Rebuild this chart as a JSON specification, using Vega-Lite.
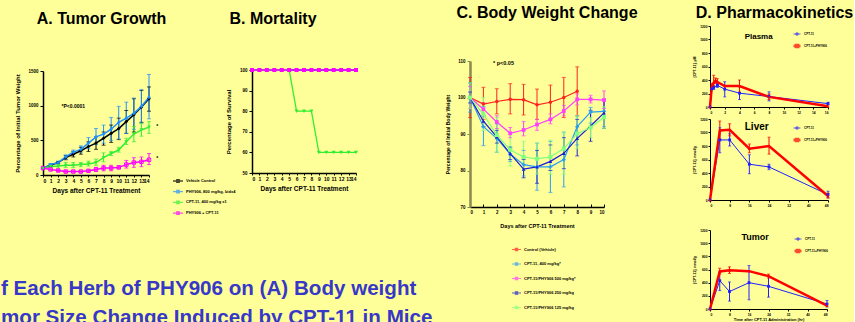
{
  "$schema": "https://vega.github.io/schema/vega-lite/v6.json",
  "background": "#ffff99",
  "padding": 0,
  "config": {
    "font": "Liberation Sans",
    "view": {"stroke": null},
    "axis": {"grid": false, "domainColor": "#000000", "tickColor": "#000000", "labelColor": "#000000", "titleColor": "#000000", "labelFont": "Liberation Sans", "titleFont": "Liberation Sans", "labelFontWeight": "bold", "titleFontWeight": "bold", "labelOverlap": false, "format": "d"},
    "legend": {"labelFont": "Liberation Sans", "labelColor": "#000000", "labelFontWeight": "bold", "padding": 0},
    "text": {"font": "Liberation Sans"}
  },
  "datasets": {
    "tumor": [
      {"day": 0, "treatment": "Vehicle Control", "value": 100},
      {"day": 1, "treatment": "Vehicle Control", "value": 140, "lo": 125, "hi": 155},
      {"day": 2, "treatment": "Vehicle Control", "value": 180, "lo": 165, "hi": 195},
      {"day": 3, "treatment": "Vehicle Control", "value": 250, "lo": 220, "hi": 280},
      {"day": 4, "treatment": "Vehicle Control", "value": 300, "lo": 260, "hi": 340},
      {"day": 5, "treatment": "Vehicle Control", "value": 350, "lo": 300, "hi": 400},
      {"day": 6, "treatment": "Vehicle Control", "value": 410, "lo": 340, "hi": 480},
      {"day": 7, "treatment": "Vehicle Control", "value": 460, "lo": 370, "hi": 550},
      {"day": 8, "treatment": "Vehicle Control", "value": 530, "lo": 430, "hi": 620},
      {"day": 9, "treatment": "Vehicle Control", "value": 600, "lo": 470, "hi": 720},
      {"day": 10, "treatment": "Vehicle Control", "value": 670, "lo": 510, "hi": 820},
      {"day": 11, "treatment": "Vehicle Control", "value": 770, "lo": 600, "hi": 930},
      {"day": 12, "treatment": "Vehicle Control", "value": 870, "lo": 620, "hi": 1100},
      {"day": 13, "treatment": "Vehicle Control", "value": 980, "lo": 760, "hi": 1220},
      {"day": 14, "treatment": "Vehicle Control", "value": 1100, "lo": 920, "hi": 1270},
      {"day": 0, "treatment": "PHY906, 800 mg/kg, bidx4", "value": 100},
      {"day": 1, "treatment": "PHY906, 800 mg/kg, bidx4", "value": 150, "lo": 135, "hi": 165},
      {"day": 2, "treatment": "PHY906, 800 mg/kg, bidx4", "value": 180, "lo": 160, "hi": 200},
      {"day": 3, "treatment": "PHY906, 800 mg/kg, bidx4", "value": 260, "lo": 230, "hi": 290},
      {"day": 4, "treatment": "PHY906, 800 mg/kg, bidx4", "value": 330, "lo": 300, "hi": 360},
      {"day": 5, "treatment": "PHY906, 800 mg/kg, bidx4", "value": 370, "lo": 330, "hi": 420},
      {"day": 6, "treatment": "PHY906, 800 mg/kg, bidx4", "value": 460, "lo": 380, "hi": 540},
      {"day": 7, "treatment": "PHY906, 800 mg/kg, bidx4", "value": 550, "lo": 440, "hi": 670},
      {"day": 8, "treatment": "PHY906, 800 mg/kg, bidx4", "value": 590, "lo": 460, "hi": 720},
      {"day": 9, "treatment": "PHY906, 800 mg/kg, bidx4", "value": 660, "lo": 500, "hi": 830},
      {"day": 10, "treatment": "PHY906, 800 mg/kg, bidx4", "value": 760, "lo": 520, "hi": 990},
      {"day": 11, "treatment": "PHY906, 800 mg/kg, bidx4", "value": 820, "lo": 600, "hi": 1050},
      {"day": 12, "treatment": "PHY906, 800 mg/kg, bidx4", "value": 890, "lo": 660, "hi": 1110},
      {"day": 13, "treatment": "PHY906, 800 mg/kg, bidx4", "value": 990, "lo": 750, "hi": 1230},
      {"day": 14, "treatment": "PHY906, 800 mg/kg, bidx4", "value": 1120, "lo": 810, "hi": 1450},
      {"day": 0, "treatment": "CPT-11, 400 mg/kg x1", "value": 100},
      {"day": 1, "treatment": "CPT-11, 400 mg/kg x1", "value": 120, "lo": 110, "hi": 130},
      {"day": 2, "treatment": "CPT-11, 400 mg/kg x1", "value": 130, "lo": 100, "hi": 170},
      {"day": 3, "treatment": "CPT-11, 400 mg/kg x1", "value": 140, "lo": 110, "hi": 180},
      {"day": 4, "treatment": "CPT-11, 400 mg/kg x1", "value": 140, "lo": 110, "hi": 180},
      {"day": 5, "treatment": "CPT-11, 400 mg/kg x1", "value": 150, "lo": 120, "hi": 180},
      {"day": 6, "treatment": "CPT-11, 400 mg/kg x1", "value": 160, "lo": 130, "hi": 200},
      {"day": 7, "treatment": "CPT-11, 400 mg/kg x1", "value": 180, "lo": 140, "hi": 230},
      {"day": 8, "treatment": "CPT-11, 400 mg/kg x1", "value": 250, "lo": 190, "hi": 320},
      {"day": 9, "treatment": "CPT-11, 400 mg/kg x1", "value": 310, "lo": 280, "hi": 340},
      {"day": 10, "treatment": "CPT-11, 400 mg/kg x1", "value": 360, "lo": 330, "hi": 400},
      {"day": 11, "treatment": "CPT-11, 400 mg/kg x1", "value": 480, "lo": 440, "hi": 530},
      {"day": 12, "treatment": "CPT-11, 400 mg/kg x1", "value": 590, "lo": 480, "hi": 700},
      {"day": 13, "treatment": "CPT-11, 400 mg/kg x1", "value": 650, "lo": 560, "hi": 740},
      {"day": 14, "treatment": "CPT-11, 400 mg/kg x1", "value": 690, "lo": 600, "hi": 770},
      {"day": 0, "treatment": "PHY906 + CPT-11", "value": 100},
      {"day": 1, "treatment": "PHY906 + CPT-11", "value": 80, "lo": 70, "hi": 90},
      {"day": 2, "treatment": "PHY906 + CPT-11", "value": 65, "lo": 50, "hi": 80},
      {"day": 3, "treatment": "PHY906 + CPT-11", "value": 50, "lo": 40, "hi": 60},
      {"day": 4, "treatment": "PHY906 + CPT-11", "value": 50, "lo": 40, "hi": 60},
      {"day": 5, "treatment": "PHY906 + CPT-11", "value": 50, "lo": 40, "hi": 60},
      {"day": 6, "treatment": "PHY906 + CPT-11", "value": 60, "lo": 45, "hi": 75},
      {"day": 7, "treatment": "PHY906 + CPT-11", "value": 80, "lo": 50, "hi": 110},
      {"day": 8, "treatment": "PHY906 + CPT-11", "value": 100, "lo": 60, "hi": 140},
      {"day": 9, "treatment": "PHY906 + CPT-11", "value": 100, "lo": 60, "hi": 140},
      {"day": 10, "treatment": "PHY906 + CPT-11", "value": 110, "lo": 90, "hi": 130},
      {"day": 11, "treatment": "PHY906 + CPT-11", "value": 150, "lo": 100, "hi": 210},
      {"day": 12, "treatment": "PHY906 + CPT-11", "value": 180, "lo": 110, "hi": 250},
      {"day": 13, "treatment": "PHY906 + CPT-11", "value": 190, "lo": 120, "hi": 260},
      {"day": 14, "treatment": "PHY906 + CPT-11", "value": 220, "lo": 150, "hi": 310}
    ],
    "survival": [
      {"day": 0, "treatment": "Vehicle Control", "pct": 100}, {"day": 1, "treatment": "Vehicle Control", "pct": 100}, {"day": 2, "treatment": "Vehicle Control", "pct": 100}, {"day": 3, "treatment": "Vehicle Control", "pct": 100}, {"day": 4, "treatment": "Vehicle Control", "pct": 100}, {"day": 5, "treatment": "Vehicle Control", "pct": 100}, {"day": 6, "treatment": "Vehicle Control", "pct": 100}, {"day": 7, "treatment": "Vehicle Control", "pct": 100}, {"day": 8, "treatment": "Vehicle Control", "pct": 100}, {"day": 9, "treatment": "Vehicle Control", "pct": 100}, {"day": 10, "treatment": "Vehicle Control", "pct": 100}, {"day": 11, "treatment": "Vehicle Control", "pct": 100}, {"day": 12, "treatment": "Vehicle Control", "pct": 100}, {"day": 13, "treatment": "Vehicle Control", "pct": 100}, {"day": 14, "treatment": "Vehicle Control", "pct": 100},
      {"day": 0, "treatment": "PHY906, 800 mg/kg, bidx4", "pct": 100}, {"day": 1, "treatment": "PHY906, 800 mg/kg, bidx4", "pct": 100}, {"day": 2, "treatment": "PHY906, 800 mg/kg, bidx4", "pct": 100}, {"day": 3, "treatment": "PHY906, 800 mg/kg, bidx4", "pct": 100}, {"day": 4, "treatment": "PHY906, 800 mg/kg, bidx4", "pct": 100}, {"day": 5, "treatment": "PHY906, 800 mg/kg, bidx4", "pct": 100}, {"day": 6, "treatment": "PHY906, 800 mg/kg, bidx4", "pct": 100}, {"day": 7, "treatment": "PHY906, 800 mg/kg, bidx4", "pct": 100}, {"day": 8, "treatment": "PHY906, 800 mg/kg, bidx4", "pct": 100}, {"day": 9, "treatment": "PHY906, 800 mg/kg, bidx4", "pct": 100}, {"day": 10, "treatment": "PHY906, 800 mg/kg, bidx4", "pct": 100}, {"day": 11, "treatment": "PHY906, 800 mg/kg, bidx4", "pct": 100}, {"day": 12, "treatment": "PHY906, 800 mg/kg, bidx4", "pct": 100}, {"day": 13, "treatment": "PHY906, 800 mg/kg, bidx4", "pct": 100}, {"day": 14, "treatment": "PHY906, 800 mg/kg, bidx4", "pct": 100},
      {"day": 0, "treatment": "CPT-11, 400 mg/kg x1", "pct": 100}, {"day": 1, "treatment": "CPT-11, 400 mg/kg x1", "pct": 100}, {"day": 2, "treatment": "CPT-11, 400 mg/kg x1", "pct": 100}, {"day": 3, "treatment": "CPT-11, 400 mg/kg x1", "pct": 100}, {"day": 4, "treatment": "CPT-11, 400 mg/kg x1", "pct": 100}, {"day": 5, "treatment": "CPT-11, 400 mg/kg x1", "pct": 100}, {"day": 6, "treatment": "CPT-11, 400 mg/kg x1", "pct": 80}, {"day": 7, "treatment": "CPT-11, 400 mg/kg x1", "pct": 80}, {"day": 8, "treatment": "CPT-11, 400 mg/kg x1", "pct": 80}, {"day": 9, "treatment": "CPT-11, 400 mg/kg x1", "pct": 60}, {"day": 10, "treatment": "CPT-11, 400 mg/kg x1", "pct": 60}, {"day": 11, "treatment": "CPT-11, 400 mg/kg x1", "pct": 60}, {"day": 12, "treatment": "CPT-11, 400 mg/kg x1", "pct": 60}, {"day": 13, "treatment": "CPT-11, 400 mg/kg x1", "pct": 60}, {"day": 14, "treatment": "CPT-11, 400 mg/kg x1", "pct": 60},
      {"day": 0, "treatment": "PHY906 + CPT-11", "pct": 100}, {"day": 1, "treatment": "PHY906 + CPT-11", "pct": 100}, {"day": 2, "treatment": "PHY906 + CPT-11", "pct": 100}, {"day": 3, "treatment": "PHY906 + CPT-11", "pct": 100}, {"day": 4, "treatment": "PHY906 + CPT-11", "pct": 100}, {"day": 5, "treatment": "PHY906 + CPT-11", "pct": 100}, {"day": 6, "treatment": "PHY906 + CPT-11", "pct": 100}, {"day": 7, "treatment": "PHY906 + CPT-11", "pct": 100}, {"day": 8, "treatment": "PHY906 + CPT-11", "pct": 100}, {"day": 9, "treatment": "PHY906 + CPT-11", "pct": 100}, {"day": 10, "treatment": "PHY906 + CPT-11", "pct": 100}, {"day": 11, "treatment": "PHY906 + CPT-11", "pct": 100}, {"day": 12, "treatment": "PHY906 + CPT-11", "pct": 100}, {"day": 13, "treatment": "PHY906 + CPT-11", "pct": 100}, {"day": 14, "treatment": "PHY906 + CPT-11", "pct": 100}
    ],
    "weight": [
      {"day": 0, "group": "Control (Vehicle)", "value": 100, "lo": 94.5, "hi": 105.5},
      {"day": 1, "group": "Control (Vehicle)", "value": 98.2, "lo": 94, "hi": 102.8},
      {"day": 2, "group": "Control (Vehicle)", "value": 98.9, "lo": 95.5, "hi": 102.4},
      {"day": 3, "group": "Control (Vehicle)", "value": 99.5, "lo": 95.5, "hi": 103.8},
      {"day": 4, "group": "Control (Vehicle)", "value": 99.4, "lo": 95.2, "hi": 103.6},
      {"day": 5, "group": "Control (Vehicle)", "value": 98, "lo": 94, "hi": 102.3},
      {"day": 6, "group": "Control (Vehicle)", "value": 98.7, "lo": 94, "hi": 103.4},
      {"day": 7, "group": "Control (Vehicle)", "value": 100, "lo": 94.5, "hi": 105.5},
      {"day": 8, "group": "Control (Vehicle)", "value": 101.7, "lo": 95, "hi": 108.4},
      {"day": 0, "group": "CPT-11, 400 mg/kg*", "value": 100, "lo": 96, "hi": 104},
      {"day": 1, "group": "CPT-11, 400 mg/kg*", "value": 92, "lo": 86.8, "hi": 97.5},
      {"day": 2, "group": "CPT-11, 400 mg/kg*", "value": 88.8, "lo": 85, "hi": 92.8},
      {"day": 3, "group": "CPT-11, 400 mg/kg*", "value": 84.5, "lo": 82.5, "hi": 86.5},
      {"day": 4, "group": "CPT-11, 400 mg/kg*", "value": 81.6, "lo": 78.5, "hi": 85.5},
      {"day": 5, "group": "CPT-11, 400 mg/kg*", "value": 81, "lo": 74.6, "hi": 87.5},
      {"day": 6, "group": "CPT-11, 400 mg/kg*", "value": 81, "lo": 74, "hi": 88},
      {"day": 7, "group": "CPT-11, 400 mg/kg*", "value": 83, "lo": 75.5, "hi": 90.5},
      {"day": 8, "group": "CPT-11, 400 mg/kg*", "value": 92, "lo": 87, "hi": 95},
      {"day": 9, "group": "CPT-11, 400 mg/kg*", "value": 96, "lo": 93, "hi": 97.3},
      {"day": 10, "group": "CPT-11, 400 mg/kg*", "value": 96.2, "lo": 92, "hi": 99.5},
      {"day": 0, "group": "CPT-11/PHY906 500 mg/kg*", "value": 100, "lo": 97, "hi": 103},
      {"day": 1, "group": "CPT-11/PHY906 500 mg/kg*", "value": 96.8, "lo": 95, "hi": 98.6},
      {"day": 2, "group": "CPT-11/PHY906 500 mg/kg*", "value": 93.3, "lo": 91.5, "hi": 95},
      {"day": 3, "group": "CPT-11/PHY906 500 mg/kg*", "value": 90.2, "lo": 89, "hi": 91.8},
      {"day": 4, "group": "CPT-11/PHY906 500 mg/kg*", "value": 91.1, "lo": 89.5, "hi": 93.4},
      {"day": 5, "group": "CPT-11/PHY906 500 mg/kg*", "value": 92.6, "lo": 91, "hi": 94},
      {"day": 6, "group": "CPT-11/PHY906 500 mg/kg*", "value": 94, "lo": 92.8, "hi": 95.5},
      {"day": 7, "group": "CPT-11/PHY906 500 mg/kg*", "value": 96.3, "lo": 95, "hi": 97.8},
      {"day": 8, "group": "CPT-11/PHY906 500 mg/kg*", "value": 99.5, "lo": 98, "hi": 101},
      {"day": 9, "group": "CPT-11/PHY906 500 mg/kg*", "value": 99.5, "lo": 98.5, "hi": 100.6},
      {"day": 10, "group": "CPT-11/PHY906 500 mg/kg*", "value": 99.3, "lo": 97, "hi": 101.8},
      {"day": 0, "group": "CPT-11/PHY906 250 mg/kg", "value": 100, "lo": 98.5, "hi": 101.5},
      {"day": 1, "group": "CPT-11/PHY906 250 mg/kg", "value": 93.5, "lo": 92, "hi": 95},
      {"day": 2, "group": "CPT-11/PHY906 250 mg/kg", "value": 89.2, "lo": 87.5, "hi": 91},
      {"day": 3, "group": "CPT-11/PHY906 250 mg/kg", "value": 84.6, "lo": 83, "hi": 86.2},
      {"day": 4, "group": "CPT-11/PHY906 250 mg/kg", "value": 80.4, "lo": 78, "hi": 83},
      {"day": 5, "group": "CPT-11/PHY906 250 mg/kg", "value": 81, "lo": 76.5, "hi": 85.5},
      {"day": 6, "group": "CPT-11/PHY906 250 mg/kg", "value": 82.5, "lo": 80, "hi": 87},
      {"day": 7, "group": "CPT-11/PHY906 250 mg/kg", "value": 84.7, "lo": 80.5, "hi": 89},
      {"day": 8, "group": "CPT-11/PHY906 250 mg/kg", "value": 88.8, "lo": 84, "hi": 94},
      {"day": 9, "group": "CPT-11/PHY906 250 mg/kg", "value": 92.2, "lo": 88, "hi": 96.5},
      {"day": 10, "group": "CPT-11/PHY906 250 mg/kg", "value": 95.8, "lo": 91.5, "hi": 99.5},
      {"day": 0, "group": "CPT-11/PHY906 125 mg/kg", "value": 100, "lo": 97, "hi": 104},
      {"day": 1, "group": "CPT-11/PHY906 125 mg/kg", "value": 95.4, "lo": 91, "hi": 100},
      {"day": 2, "group": "CPT-11/PHY906 125 mg/kg", "value": 89.7, "lo": 85, "hi": 94.5},
      {"day": 3, "group": "CPT-11/PHY906 125 mg/kg", "value": 85.7, "lo": 81.2, "hi": 90},
      {"day": 4, "group": "CPT-11/PHY906 125 mg/kg", "value": 83.7, "lo": 80, "hi": 88},
      {"day": 5, "group": "CPT-11/PHY906 125 mg/kg", "value": 83.2, "lo": 79, "hi": 87.5},
      {"day": 6, "group": "CPT-11/PHY906 125 mg/kg", "value": 83.7, "lo": 79, "hi": 88.3},
      {"day": 7, "group": "CPT-11/PHY906 125 mg/kg", "value": 86, "lo": 79, "hi": 90.5},
      {"day": 8, "group": "CPT-11/PHY906 125 mg/kg", "value": 90.1, "lo": 86, "hi": 95},
      {"day": 9, "group": "CPT-11/PHY906 125 mg/kg", "value": 91.8, "lo": 89, "hi": 94.5},
      {"day": 10, "group": "CPT-11/PHY906 125 mg/kg", "value": 94.6, "lo": 91.5, "hi": 97.5}
    ],
    "pk": [
      {"tissue": "Plasma", "drug": "CPT-11", "time": 0, "value": 0},
      {"tissue": "Plasma", "drug": "CPT-11", "time": 0.25, "value": 270},
      {"tissue": "Plasma", "drug": "CPT-11", "time": 0.5, "value": 290, "lo": 260, "hi": 320},
      {"tissue": "Plasma", "drug": "CPT-11", "time": 1, "value": 320, "lo": 290, "hi": 350},
      {"tissue": "Plasma", "drug": "CPT-11", "time": 2, "value": 265, "lo": 150, "hi": 375},
      {"tissue": "Plasma", "drug": "CPT-11", "time": 4, "value": 205, "lo": 110, "hi": 300},
      {"tissue": "Plasma", "drug": "CPT-11", "time": 8, "value": 155, "lo": 90, "hi": 225},
      {"tissue": "Plasma", "drug": "CPT-11", "time": 16, "value": 50, "lo": 30, "hi": 70},
      {"tissue": "Plasma", "drug": "CPT-11+PHY906", "time": 0, "value": 0},
      {"tissue": "Plasma", "drug": "CPT-11+PHY906", "time": 0.25, "value": 310, "lo": 270, "hi": 350},
      {"tissue": "Plasma", "drug": "CPT-11+PHY906", "time": 0.5, "value": 360, "lo": 300, "hi": 470},
      {"tissue": "Plasma", "drug": "CPT-11+PHY906", "time": 0.75, "value": 390, "lo": 350, "hi": 430},
      {"tissue": "Plasma", "drug": "CPT-11+PHY906", "time": 1, "value": 370, "lo": 330, "hi": 420},
      {"tissue": "Plasma", "drug": "CPT-11+PHY906", "time": 2, "value": 310},
      {"tissue": "Plasma", "drug": "CPT-11+PHY906", "time": 4, "value": 310, "lo": 220, "hi": 400},
      {"tissue": "Plasma", "drug": "CPT-11+PHY906", "time": 8, "value": 150, "lo": 110, "hi": 190},
      {"tissue": "Plasma", "drug": "CPT-11+PHY906", "time": 16, "value": 10},
      {"tissue": "Liver", "drug": "CPT-11", "time": 0, "value": 0},
      {"tissue": "Liver", "drug": "CPT-11", "time": 4, "value": 890, "lo": 700, "hi": 1070},
      {"tissue": "Liver", "drug": "CPT-11", "time": 8, "value": 890, "lo": 800, "hi": 980},
      {"tissue": "Liver", "drug": "CPT-11", "time": 16, "value": 530, "lo": 390, "hi": 670},
      {"tissue": "Liver", "drug": "CPT-11", "time": 24, "value": 490, "lo": 450, "hi": 530},
      {"tissue": "Liver", "drug": "CPT-11", "time": 48, "value": 80, "lo": 30, "hi": 130},
      {"tissue": "Liver", "drug": "CPT-11+PHY906", "time": 0, "value": 0},
      {"tissue": "Liver", "drug": "CPT-11+PHY906", "time": 4, "value": 1030, "lo": 900, "hi": 1170},
      {"tissue": "Liver", "drug": "CPT-11+PHY906", "time": 8, "value": 1040, "lo": 950, "hi": 1130},
      {"tissue": "Liver", "drug": "CPT-11+PHY906", "time": 16, "value": 760, "lo": 700, "hi": 830},
      {"tissue": "Liver", "drug": "CPT-11+PHY906", "time": 24, "value": 800, "lo": 680, "hi": 930},
      {"tissue": "Liver", "drug": "CPT-11+PHY906", "time": 48, "value": 60, "lo": 30, "hi": 100},
      {"tissue": "Tumor", "drug": "CPT-11", "time": 0, "value": 0},
      {"tissue": "Tumor", "drug": "CPT-11", "time": 4, "value": 430, "lo": 280, "hi": 560},
      {"tissue": "Tumor", "drug": "CPT-11", "time": 8, "value": 265, "lo": 120, "hi": 410},
      {"tissue": "Tumor", "drug": "CPT-11", "time": 16, "value": 400, "lo": 140, "hi": 660},
      {"tissue": "Tumor", "drug": "CPT-11", "time": 24, "value": 345, "lo": 180, "hi": 500},
      {"tissue": "Tumor", "drug": "CPT-11", "time": 48, "value": 75, "lo": 30, "hi": 130},
      {"tissue": "Tumor", "drug": "CPT-11+PHY906", "time": 0, "value": 0},
      {"tissue": "Tumor", "drug": "CPT-11+PHY906", "time": 4, "value": 570, "lo": 530, "hi": 620},
      {"tissue": "Tumor", "drug": "CPT-11+PHY906", "time": 8, "value": 590, "lo": 540, "hi": 640},
      {"tissue": "Tumor", "drug": "CPT-11+PHY906", "time": 16, "value": 575},
      {"tissue": "Tumor", "drug": "CPT-11+PHY906", "time": 24, "value": 500, "lo": 470, "hi": 530},
      {"tissue": "Tumor", "drug": "CPT-11+PHY906", "time": 48, "value": 50}
    ]
  },
  "bounds": "flush",
  "spacing": 427,
  "resolve": {"scale": {"x": "independent", "y": "independent", "color": "independent", "shape": "independent", "strokeWidth": "independent"}, "legend": {"color": "independent", "shape": "independent", "strokeWidth": "independent"}},
  "hconcat": [
    {
      "bounds": "flush",
      "spacing": 209,
      "resolve": {"scale": {"x": "independent", "y": "independent", "color": "independent", "shape": "independent", "strokeWidth": "independent"}, "legend": {"color": "independent", "shape": "independent", "strokeWidth": "independent"}},
      "title": {"text": ["f Each Herb of PHY906 on (A) Body weight", "mor Size Change Induced by CPT-11 in Mice"], "orient": "bottom", "anchor": "start", "frame": "bounds", "fontSize": 20.6, "fontWeight": "bold", "font": "Liberation Sans", "color": "#3838c8", "lineHeight": 28.5, "offset": 62, "dx": -14},
      "hconcat": [
        {
          "bounds": "flush",
          "spacing": 33,
          "resolve": {"scale": {"x": "independent", "y": "independent", "color": "independent", "shape": "independent"}},
          "vconcat": [
            {"width": 117, "height": 38, "data": {"values": [{"label": "A. Tumor Growth"}]}, "mark": {"type": "text", "fontSize": 16, "fontWeight": "bold", "color": "#000000"}, "encoding": {"text": {"field": "label"}}},
            {
              "width": 106, "height": 104,
              "data": {"name": "tumor"},
              "encoding": {
                "x": {"field": "day", "type": "quantitative", "scale": {"domain": [0, 14], "nice": false}, "axis": {"values": [0,1,2,3,4,5,6,7,8,9,10,11,12,13,14], "title": "Days after CPT-11 Treatment", "labelFontSize": 5, "titleFontSize": 6.5, "tickSize": 2, "labelPadding": 1, "titlePadding": 4, "domainWidth": 1.5}},
                "y": {"field": "value", "type": "quantitative", "title": "Percentage of Initial Tumor Weight", "scale": {"domain": [0, 1500], "nice": false}, "axis": {"values": [0, 500, 1000, 1500], "labelFontSize": 4.5, "titleFontSize": 6, "tickSize": 3, "labelPadding": 2, "titlePadding": 7, "domainWidth": 1.5}},
                "color": {"field": "treatment", "type": "nominal", "scale": {"domain": ["Vehicle Control", "PHY906, 800 mg/kg, bidx4", "CPT-11, 400 mg/kg x1", "PHY906 + CPT-11"], "range": ["#000000", "#1e90ff", "#33ee33", "#ff00ff"]}, "legend": {"title": null, "orient": "none", "legendX": 129, "legendY": 104, "labelFontSize": 4, "symbolType": "M-1,0H1M-0.25,-0.25H0.25V0.25H-0.25Z", "symbolSize": 100, "symbolStrokeWidth": 1.3, "rowPadding": 0.7, "labelOffset": 2, "labelLimit": 200}}
              },
              "layer": [
                {"mark": {"type": "rule", "strokeWidth": 1}, "encoding": {"y": {"field": "lo", "type": "quantitative", "title": "Percentage of Initial Tumor Weight"}, "y2": {"field": "hi"}}},
                {"mark": {"type": "tick", "orient": "horizontal", "size": 4, "thickness": 1}, "encoding": {"y": {"field": "lo", "type": "quantitative", "title": "Percentage of Initial Tumor Weight"}}},
                {"mark": {"type": "tick", "orient": "horizontal", "size": 4, "thickness": 1}, "encoding": {"y": {"field": "hi", "type": "quantitative", "title": "Percentage of Initial Tumor Weight"}}},
                {"mark": {"type": "line", "strokeWidth": 1.5}},
                {"transform": [{"filter": "datum.treatment === 'Vehicle Control'"}], "mark": {"type": "point", "shape": "diamond", "filled": true, "size": 14, "opacity": 1}},
                {"transform": [{"filter": "datum.treatment === 'PHY906, 800 mg/kg, bidx4'"}], "mark": {"type": "point", "shape": "diamond", "filled": true, "size": 14, "opacity": 1}},
                {"transform": [{"filter": "datum.treatment === 'CPT-11, 400 mg/kg x1'"}], "mark": {"type": "point", "shape": "triangle-down", "filled": true, "size": 14, "opacity": 1}},
                {"transform": [{"filter": "datum.treatment === 'PHY906 + CPT-11'"}], "mark": {"type": "point", "shape": "square", "filled": false, "strokeWidth": 1, "size": 12, "opacity": 1}},
                {"data": {"values": [{"day": 4, "value": 1000, "label": "*P<0.0001"}, {"day": 15.1, "value": 700, "label": "*"}, {"day": 15.1, "value": 240, "label": "*"}]}, "mark": {"type": "text", "fontSize": 5, "fontWeight": "bold"}, "encoding": {"text": {"field": "label"}, "color": {"value": "#000000"}}}
              ]
            }
          ]
        },
        {
          "bounds": "flush",
          "spacing": 32,
          "resolve": {"scale": {"x": "independent", "y": "independent", "color": "independent", "shape": "independent"}},
          "vconcat": [
            {"width": 42, "height": 38, "data": {"values": [{"label": "B. Mortality"}]}, "mark": {"type": "text", "fontSize": 16, "fontWeight": "bold", "color": "#000000"}, "encoding": {"text": {"field": "label"}}},
            {
              "width": 104, "height": 103,
              "data": {"name": "survival"},
              "encoding": {
                "x": {"field": "day", "type": "quantitative", "scale": {"domain": [0, 14], "nice": false}, "axis": {"values": [0,1,2,3,4,5,6,7,8,9,10,11,12,13,14], "title": "Days after CPT-11 Treatment", "labelFontSize": 5, "titleFontSize": 6.5, "tickSize": 2, "labelPadding": 1, "titlePadding": 4, "domainWidth": 1.5}},
                "y": {"field": "pct", "type": "quantitative", "title": "Percentage of Survival", "scale": {"domain": [50, 100], "nice": false}, "axis": {"values": [50, 60, 70, 80, 90, 100], "labelFontSize": 4.5, "titleFontSize": 6, "tickSize": 3, "labelPadding": 2, "titlePadding": 8, "domainWidth": 1.5}},
                "color": {"field": "treatment", "type": "nominal", "scale": {"domain": ["Vehicle Control", "PHY906, 800 mg/kg, bidx4", "CPT-11, 400 mg/kg x1", "PHY906 + CPT-11"], "range": ["#000000", "#1e90ff", "#33ee33", "#ff00ff"]}, "legend": null}
              },
              "layer": [
                {"mark": {"type": "line", "strokeWidth": 1.3}},
                {"mark": {"type": "point", "filled": true, "size": 16, "opacity": 1}, "encoding": {"shape": {"field": "treatment", "type": "nominal", "scale": {"domain": ["Vehicle Control", "PHY906, 800 mg/kg, bidx4", "CPT-11, 400 mg/kg x1", "PHY906 + CPT-11"], "range": ["diamond", "diamond", "triangle-down", "square"]}, "legend": null}}}
              ]
            }
          ]
        }
      ]
    },
    {
      "bounds": "flush",
      "spacing": 240,
      "resolve": {"scale": {"x": "independent", "y": "independent", "color": "independent", "shape": "independent", "strokeWidth": "independent"}, "legend": {"color": "independent", "shape": "independent", "strokeWidth": "independent"}},
      "hconcat": [
        {
          "bounds": "flush",
          "spacing": 35,
          "resolve": {"scale": {"x": "independent", "y": "independent", "color": "independent", "shape": "independent", "strokeWidth": "independent"}},
          "vconcat": [
            {"width": 154, "height": 26, "data": {"values": [{"label": "C. Body Weight Change"}]}, "mark": {"type": "text", "fontSize": 16, "fontWeight": "bold", "color": "#000000"}, "encoding": {"text": {"field": "label"}}},
            {
              "width": 134, "height": 146,
              "data": {"name": "weight"},
              "encoding": {
                "x": {"field": "day", "type": "quantitative", "scale": {"domain": [0, 10], "nice": false}, "axis": {"values": [0,1,2,3,4,5,6,7,8,9,10], "title": "Days after CPT-11 Treatment", "labelFontSize": 4.5, "titleFontSize": 5.5, "tickSize": -3, "labelPadding": 5, "titlePadding": 10, "domainWidth": 1.5}},
                "y": {"field": "value", "type": "quantitative", "title": "Percentage of Initial Body Weight", "scale": {"domain": [70, 110], "nice": false}, "axis": {"values": [70, 80, 90, 100, 110], "labelFontSize": 4.5, "titleFontSize": 5, "tickSize": 3, "labelPadding": 2, "titlePadding": 7, "domainWidth": 2.5, "domainColor": "#8a8a50", "tickColor": "#8a8a50"}},
                "color": {"field": "group", "type": "nominal", "scale": {"domain": ["Control (Vehicle)", "CPT-11, 400 mg/kg*", "CPT-11/PHY906 500 mg/kg*", "CPT-11/PHY906 250 mg/kg", "CPT-11/PHY906 125 mg/kg"], "range": ["#ff2020", "#2a9df4", "#ff40ff", "#1c1cd4", "#80ff80"]}, "legend": {"title": null, "orient": "none", "legendX": 41, "legendY": 183, "labelFontSize": 4, "symbolType": "M-1,0H1M-0.25,-0.25H0.25V0.25H-0.25Z", "symbolSize": 81, "symbolStrokeWidth": 1.5, "rowPadding": 4.5, "labelOffset": 2, "labelLimit": 200}}
              },
              "layer": [
                {"mark": {"type": "rule", "strokeWidth": 1}, "encoding": {"y": {"field": "lo", "type": "quantitative", "title": "Percentage of Initial Body Weight"}, "y2": {"field": "hi"}}},
                {"mark": {"type": "tick", "orient": "horizontal", "size": 4, "thickness": 1}, "encoding": {"y": {"field": "lo", "type": "quantitative", "title": "Percentage of Initial Body Weight"}}},
                {"mark": {"type": "tick", "orient": "horizontal", "size": 4, "thickness": 1}, "encoding": {"y": {"field": "hi", "type": "quantitative", "title": "Percentage of Initial Body Weight"}}},
                {"mark": {"type": "line"}, "encoding": {"strokeWidth": {"field": "group", "type": "ordinal", "scale": {"domain": ["Control (Vehicle)", "CPT-11, 400 mg/kg*", "CPT-11/PHY906 500 mg/kg*", "CPT-11/PHY906 250 mg/kg", "CPT-11/PHY906 125 mg/kg"], "range": [1.2, 1.2, 1.2, 1.2, 3]}, "legend": null}}},
                {"transform": [{"filter": "datum.group === 'Control (Vehicle)'"}], "mark": {"type": "point", "shape": "circle", "filled": true, "size": 12, "opacity": 1}},
                {"transform": [{"filter": "datum.group === 'CPT-11, 400 mg/kg*'"}], "mark": {"type": "point", "shape": "cross", "filled": true, "size": 14, "opacity": 1}},
                {"transform": [{"filter": "datum.group === 'CPT-11/PHY906 500 mg/kg*'"}], "mark": {"type": "point", "shape": "square", "filled": true, "size": 14, "opacity": 1}},
                {"transform": [{"filter": "datum.group === 'CPT-11/PHY906 250 mg/kg'"}], "mark": {"type": "point", "shape": "triangle-up", "filled": true, "size": 14, "opacity": 1}},
                {"transform": [{"filter": "datum.group === 'CPT-11/PHY906 125 mg/kg'"}], "mark": {"type": "point", "shape": "square", "filled": true, "size": 16, "opacity": 1}},
                {"data": {"values": [{"day": 2.5, "value": 109.5, "label": "* p<0.05"}]}, "mark": {"type": "text", "fontSize": 5.5, "fontWeight": "bold"}, "encoding": {"text": {"field": "label"}, "color": {"value": "#000000"}}}
              ]
            }
          ]
        },
        {
          "bounds": "flush",
          "spacing": 230,
          "resolve": {"scale": {"x": "independent", "y": "independent", "color": "independent", "shape": "independent", "strokeWidth": "independent"}, "legend": {"color": "independent", "shape": "independent", "strokeWidth": "independent"}},
          "vconcat": [
            {
              "bounds": "flush",
              "spacing": 0,
              "resolve": {"scale": {"x": "independent", "y": "independent", "color": "independent", "shape": "independent", "strokeWidth": "independent"}, "legend": {"color": "independent", "shape": "independent", "strokeWidth": "independent"}},
              "vconcat": [
                {"width": 129, "height": 26, "data": {"values": [{"label": "D. Pharmacokinetics"}]}, "mark": {"type": "text", "fontSize": 16, "fontWeight": "bold", "color": "#000000"}, "encoding": {"text": {"field": "label"}}},
                {
                  "bounds": "flush",
                  "spacing": 12,
                  "resolve": {"scale": {"x": "independent", "y": "independent", "color": "independent", "shape": "independent", "strokeWidth": "independent"}, "legend": {"color": "independent", "shape": "independent", "strokeWidth": "independent"}},
                  "vconcat": [
                    {
                      "width": 118, "height": 81,
                      "data": {"name": "pk"},
                      "transform": [{"filter": "datum.tissue === 'Plasma'"}],
                      "encoding": {
                        "x": {"field": "time", "type": "quantitative", "scale": {"domain": [0, 16], "nice": false}, "axis": {"values": [0,2,4,6,8,10,12,14,16], "title": null, "labelFontSize": 3.3, "tickSize": 2, "labelPadding": 1, "domainWidth": 1}},
                        "y": {"field": "value", "type": "quantitative", "title": "[CPT-11], µM", "scale": {"domain": [0, 1200], "nice": false}, "axis": {"values": [0,200,400,600,800,1000,1200], "labelFontSize": 3.3, "titleFontSize": 3.5, "tickSize": 2, "labelPadding": 1, "titlePadding": 3, "domainWidth": 1}},
                        "color": {"field": "drug", "type": "nominal", "scale": {"domain": ["CPT-11", "CPT-11+PHY906"], "range": ["#2020ff", "#ff0000"]}, "legend": {"title": null, "orient": "none", "legendX": 82, "legendY": 4, "labelFontSize": 3, "symbolType": "M-1,0H1M-0.3,-0.3H0.3V0.3H-0.3Z", "symbolSize": 49, "symbolStrokeWidth": 1.5, "rowPadding": 1, "labelOffset": 2}}
                      },
                      "layer": [
                        {"mark": {"type": "rule", "strokeWidth": 1}, "encoding": {"y": {"field": "lo", "type": "quantitative", "title": "[CPT-11], µM"}, "y2": {"field": "hi"}}},
                        {"mark": {"type": "tick", "orient": "horizontal", "size": 3, "thickness": 1}, "encoding": {"y": {"field": "lo", "type": "quantitative", "title": "[CPT-11], µM"}}},
                        {"mark": {"type": "tick", "orient": "horizontal", "size": 3, "thickness": 1}, "encoding": {"y": {"field": "hi", "type": "quantitative", "title": "[CPT-11], µM"}}},
                        {"mark": {"type": "line"}, "encoding": {"strokeWidth": {"field": "drug", "type": "ordinal", "scale": {"domain": ["CPT-11", "CPT-11+PHY906"], "range": [1, 2.5]}, "legend": null}}},
                        {"transform": [{"filter": "datum.drug === 'CPT-11'"}], "mark": {"type": "point", "shape": "square", "filled": true, "size": 8, "opacity": 1}},
                        {"transform": [{"filter": "datum.drug === 'CPT-11+PHY906'"}], "mark": {"type": "point", "shape": "triangle-up", "filled": true, "size": 8, "opacity": 1}},
                        {"data": {"values": [{"tissue": "Plasma", "time": 6.6, "value": 1040, "label": "Plasma"}]}, "mark": {"type": "text", "fontSize": 8, "fontWeight": "bold"}, "encoding": {"text": {"field": "label"}, "color": {"value": "#000000"}}}
                      ]
                    },
                    {
                      "width": 118, "height": 81,
                      "data": {"name": "pk"},
                      "transform": [{"filter": "datum.tissue === 'Liver'"}],
                      "encoding": {
                        "x": {"field": "time", "type": "quantitative", "scale": {"domain": [0, 48], "nice": false}, "axis": {"values": [0,8,16,24,32,40,48], "title": null, "labelFontSize": 3.3, "tickSize": 2, "labelPadding": 1, "domainWidth": 1}},
                        "y": {"field": "value", "type": "quantitative", "title": "[CPT-11], nmol/g", "scale": {"domain": [0, 1200], "nice": false}, "axis": {"values": [0,200,400,600,800,1000,1200], "labelFontSize": 3.3, "titleFontSize": 3.5, "tickSize": 2, "labelPadding": 1, "titlePadding": 3, "domainWidth": 1}},
                        "color": {"field": "drug", "type": "nominal", "scale": {"domain": ["CPT-11", "CPT-11+PHY906"], "range": ["#2020ff", "#ff0000"]}, "legend": {"title": null, "orient": "none", "legendX": 82, "legendY": 5, "labelFontSize": 3, "symbolType": "M-1,0H1M-0.3,-0.3H0.3V0.3H-0.3Z", "symbolSize": 49, "symbolStrokeWidth": 1.5, "rowPadding": 1, "labelOffset": 2}}
                      },
                      "layer": [
                        {"mark": {"type": "rule", "strokeWidth": 1}, "encoding": {"y": {"field": "lo", "type": "quantitative", "title": "[CPT-11], nmol/g"}, "y2": {"field": "hi"}}},
                        {"mark": {"type": "tick", "orient": "horizontal", "size": 3, "thickness": 1}, "encoding": {"y": {"field": "lo", "type": "quantitative", "title": "[CPT-11], nmol/g"}}},
                        {"mark": {"type": "tick", "orient": "horizontal", "size": 3, "thickness": 1}, "encoding": {"y": {"field": "hi", "type": "quantitative", "title": "[CPT-11], nmol/g"}}},
                        {"mark": {"type": "line"}, "encoding": {"strokeWidth": {"field": "drug", "type": "ordinal", "scale": {"domain": ["CPT-11", "CPT-11+PHY906"], "range": [1, 2.5]}, "legend": null}}},
                        {"transform": [{"filter": "datum.drug === 'CPT-11'"}], "mark": {"type": "point", "shape": "square", "filled": true, "size": 8, "opacity": 1}},
                        {"transform": [{"filter": "datum.drug === 'CPT-11+PHY906'"}], "mark": {"type": "point", "shape": "triangle-up", "filled": true, "size": 8, "opacity": 1}},
                        {"data": {"values": [{"tissue": "Liver", "time": 19, "value": 1080, "label": "Liver"}]}, "mark": {"type": "text", "fontSize": 10, "fontWeight": "bold"}, "encoding": {"text": {"field": "label"}, "color": {"value": "#000000"}}}
                      ]
                    }
                  ]
                }
              ]
            },
            {
              "width": 117, "height": 79,
              "data": {"name": "pk"},
              "transform": [{"filter": "datum.tissue === 'Tumor'"}],
              "encoding": {
                "x": {"field": "time", "type": "quantitative", "scale": {"domain": [0, 48], "nice": false}, "axis": {"values": [0,8,16,24,32,40,48], "title": "Time after CPT-11 Administration (hr)", "labelFontSize": 3.3, "titleFontSize": 4, "tickSize": 2, "labelPadding": 1, "titlePadding": 2, "domainWidth": 1}},
                "y": {"field": "value", "type": "quantitative", "title": "[CPT-11], nmol/g", "scale": {"domain": [0, 1200], "nice": false}, "axis": {"values": [0,200,400,600,800,1000,1200], "labelFontSize": 3.3, "titleFontSize": 3.5, "tickSize": 2, "labelPadding": 1, "titlePadding": 3, "domainWidth": 1}},
                "color": {"field": "drug", "type": "nominal", "scale": {"domain": ["CPT-11", "CPT-11+PHY906"], "range": ["#2020ff", "#ff0000"]}, "legend": {"title": null, "orient": "none", "legendX": 83, "legendY": 5, "labelFontSize": 3, "symbolType": "M-1,0H1M-0.3,-0.3H0.3V0.3H-0.3Z", "symbolSize": 49, "symbolStrokeWidth": 1.5, "rowPadding": 1, "labelOffset": 2}}
              },
              "layer": [
                {"mark": {"type": "rule", "strokeWidth": 1}, "encoding": {"y": {"field": "lo", "type": "quantitative", "title": "[CPT-11], nmol/g"}, "y2": {"field": "hi"}}},
                {"mark": {"type": "tick", "orient": "horizontal", "size": 3, "thickness": 1}, "encoding": {"y": {"field": "lo", "type": "quantitative", "title": "[CPT-11], nmol/g"}}},
                {"mark": {"type": "tick", "orient": "horizontal", "size": 3, "thickness": 1}, "encoding": {"y": {"field": "hi", "type": "quantitative", "title": "[CPT-11], nmol/g"}}},
                {"mark": {"type": "line"}, "encoding": {"strokeWidth": {"field": "drug", "type": "ordinal", "scale": {"domain": ["CPT-11", "CPT-11+PHY906"], "range": [1, 2.5]}, "legend": null}}},
                {"transform": [{"filter": "datum.drug === 'CPT-11'"}], "mark": {"type": "point", "shape": "square", "filled": true, "size": 8, "opacity": 1}},
                {"transform": [{"filter": "datum.drug === 'CPT-11+PHY906'"}], "mark": {"type": "point", "shape": "triangle-up", "filled": true, "size": 8, "opacity": 1}},
                {"data": {"values": [{"tissue": "Tumor", "time": 18.5, "value": 1090, "label": "Tumor"}]}, "mark": {"type": "text", "fontSize": 9, "fontWeight": "bold"}, "encoding": {"text": {"field": "label"}, "color": {"value": "#000000"}}}
              ]
            }
          ]
        }
      ]
    }
  ]
}
